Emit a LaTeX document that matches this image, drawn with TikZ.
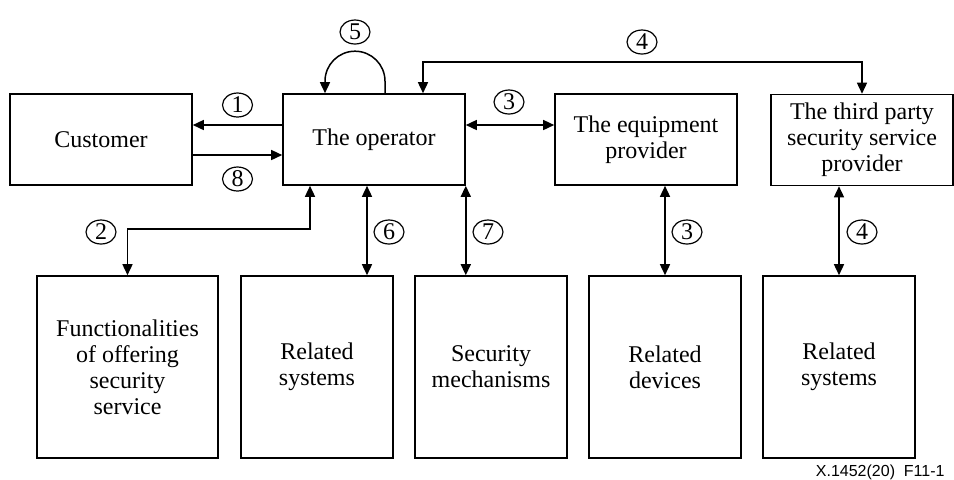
\documentclass[tikz,border=0pt]{standalone}
\usepackage{fontspec}
\setmainfont{Liberation Serif}
\newfontfamily\capfont{Liberation Sans}
\usepackage{tikz}
\usetikzlibrary{arrows.meta,shapes.geometric}

\begin{document}
\begin{tikzpicture}[x=0.5pt,y=-0.5pt,
	font=\fontsize{12}{13}\selectfont, line width=0.75pt,
	topbox/.style={draw, line width=0.8pt, minimum width=91pt, minimum height=45.5pt, inner sep=0pt, align=center},
	lowbox/.style={draw, line width=0.8pt, minimum width=76pt, minimum height=91pt, inner sep=0pt, align=center},
	num/.style={draw, ellipse, line width=0.6pt, minimum width=15pt, minimum height=12pt, inner sep=0pt},
	arr/.style={-{Triangle[length=5.5pt,width=5pt]}},
	dblarr/.style={{Triangle[length=5.5pt,width=5pt]}-{Triangle[length=5.5pt,width=5pt]}}]

	\useasboundingbox (0,0) rectangle (954,479);

	% top row
	\node[topbox] (cust) at (101,139.5) {Customer};
	\node[topbox] (oper) at (374,139.5) {The operator};
	\node[topbox] (equip) at (646,139.5) {The equipment\\provider};
	\node[topbox] (third) at (862,140) {The third party\\security service\\provider};

	% bottom row
	\node[lowbox, minimum width=90.5pt] (func) at (127.5,367) {Functionalities\\of offering\\security\\service};
	\node[lowbox] (rsys) at (317,367) {Related\\systems};
	\node[lowbox] (mech) at (491,367) {Security\\mechanisms};
	\node[lowbox] (dev) at (665,367) {Related\\devices};
	\node[lowbox] (rsys2) at (839,367) {Related\\systems};

	% connectors
	\draw[arr] ([yshift=7.25pt]oper.west) -- ([yshift=7.25pt]cust.east);
	\draw[arr] ([yshift=-7.75pt]cust.east) -- ([yshift=-7.75pt]oper.west);
	\draw[dblarr] ([yshift=7.25pt]oper.east) -- ([yshift=7.25pt]equip.west);
	\draw[arr] ([xshift=5.5pt]oper.north) -- ++(0,-12) arc[start angle=0, end angle=180, radius=15pt] -- ([xshift=-24.5pt]oper.north);
	\draw[dblarr] ([xshift=24.5pt]oper.north) -- ++(0,-31) -| (third.north);
	\draw[dblarr] (func.north) -- ++(0,-46) -| ([xshift=-32pt]oper.south);
	\draw[dblarr] ([xshift=-3.5pt]oper.south) -- ([xshift=-3.5pt]oper.south |- rsys.north);
	\draw[dblarr] (oper.south east) -- (oper.south east |- mech.north);
	\draw[dblarr] ([xshift=9.5pt]equip.south) -- ([xshift=9.5pt]equip.south |- dev.north);
	\draw[dblarr] ([xshift=-11.5pt]third.south) -- ([xshift=-11.5pt]third.south |- rsys2.north);

	% numbers
	\node[num] (n1) at (237.5,105) {1};
	\node[num] (n8) at (237.5,179) {8};
	\node[num] (n5) at (355,32) {5};
	\node[num] (n4a) at (642,42) {4};
	\node[num] (n3a) at (509,102) {3};
	\node[num] (n2) at (101,232) {2};
	\node[num] (n6) at (389,232) {6};
	\node[num] (n7) at (488,232) {7};
	\node[num] (n3b) at (687,232) {3};
	\node[num] (n4b) at (862,232) {4};

	\node[anchor=base east, font=\capfont\fontsize{8}{9}\selectfont] (cap) at (952,476) {X.1452(20)\ \ F11-1};

\end{tikzpicture}
\end{document}
